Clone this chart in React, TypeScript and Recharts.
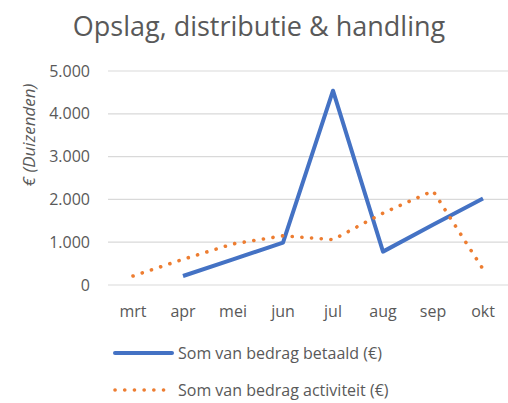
import { LineChart, Line, XAxis, YAxis, CartesianGrid, Legend } from "recharts";

const MONTHS = ["mrt", "apr", "mei", "jun", "jul", "aug", "sep", "okt"];
const BETAALD = [null, 210, 600, 990, 4540, 780, 1410, 2020];
const ACTIVITEIT = [210, 600, 960, 1150, 1060, 1680, 2200, 370];
const Y_TICKS = [0, 1000, 2000, 3000, 4000, 5000];

const data = MONTHS.map((m, i) => ({ maand: m, betaald: BETAALD[i], activiteit: ACTIVITEIT[i] }));

const BLUE = "#4472C4";
const ORANGE = "#ED7D31";
const TEXT = "#595959";
const FONT = '"Open Sans", sans-serif';
const TICK = { fill: TEXT, fontSize: 16, fontFamily: FONT };

const fmt = (v: number) => String(v).replace(/\B(?=(\d{3})+(?!\d))/g, ".");

function LegendRows() {
  const rows = [
    { label: "Som van bedrag betaald (€)", color: BLUE, dash: undefined, w: 4, top: 5 },
    { label: "Som van bedrag activiteit (€)", color: ORANGE, dash: "0.1 9.6", w: 3.6, top: 42 },
  ];
  return (
    <div style={{ position: "relative", width: 508, height: 70 }}>
      {rows.map((r) => (
        <div key={r.label} style={{ position: "absolute", left: 112, top: r.top, display: "flex", alignItems: "center", height: 24 }}>
          <svg width={64} height={10}>
            <line x1={3} y1={5} x2={60} y2={5} stroke={r.color} strokeWidth={r.w}
              strokeDasharray={r.dash} strokeLinecap="round" />
          </svg>
          <span style={{ color: TEXT, fontSize: 16, fontFamily: FONT, marginLeft: 2 }}>{r.label}</span>
        </div>
      ))}
    </div>
  );
}

export default function App() {
  return (
    <div style={{ position: "absolute", left: 0, top: 0, width: 508, height: 403, background: "#fff", fontFamily: FONT }}>
      <div style={{ position: "absolute", left: 0, top: 9, width: 518, textAlign: "center", fontSize: 27, lineHeight: "34px", color: TEXT }}>
        Opslag, distributie &amp; handling
      </div>
      <div style={{
        position: "absolute", left: 28, top: 135, transform: "translate(-50%, -50%) rotate(-90deg)",
        whiteSpace: "nowrap", fontStyle: "italic", fontSize: 17, color: TEXT,
      }}>
        € (Duizenden)
      </div>
      <LineChart width={508} height={403} data={data} margin={{ top: 71, right: 0, bottom: 88, left: 0 }}>
        <CartesianGrid horizontal vertical={false} stroke="#D9D9D9" strokeWidth={1.2} />
        <XAxis dataKey="maand" scale="band" height={30} axisLine={false} tickLine={false} tickSize={0} tickMargin={21} tick={TICK} interval={0} />
        <YAxis domain={[0, 5000]} ticks={Y_TICKS} width={108} axisLine={false} tickLine={false} tickSize={0}
          tickMargin={18} tick={TICK} tickFormatter={fmt} />
        <Legend layout="horizontal" verticalAlign="middle" align="center"
          wrapperStyle={{ top: 336, left: 0, width: 508 }} content={() => <LegendRows />} />
        <Line dataKey="betaald" stroke={BLUE} strokeWidth={4} dot={false} connectNulls={false}
          strokeLinejoin="round" isAnimationActive={false} />
        <Line dataKey="activiteit" stroke={ORANGE} strokeWidth={3.6} strokeDasharray="0.1 9.6" strokeLinecap="round"
          dot={false} isAnimationActive={false} />
      </LineChart>
    </div>
  );
}
